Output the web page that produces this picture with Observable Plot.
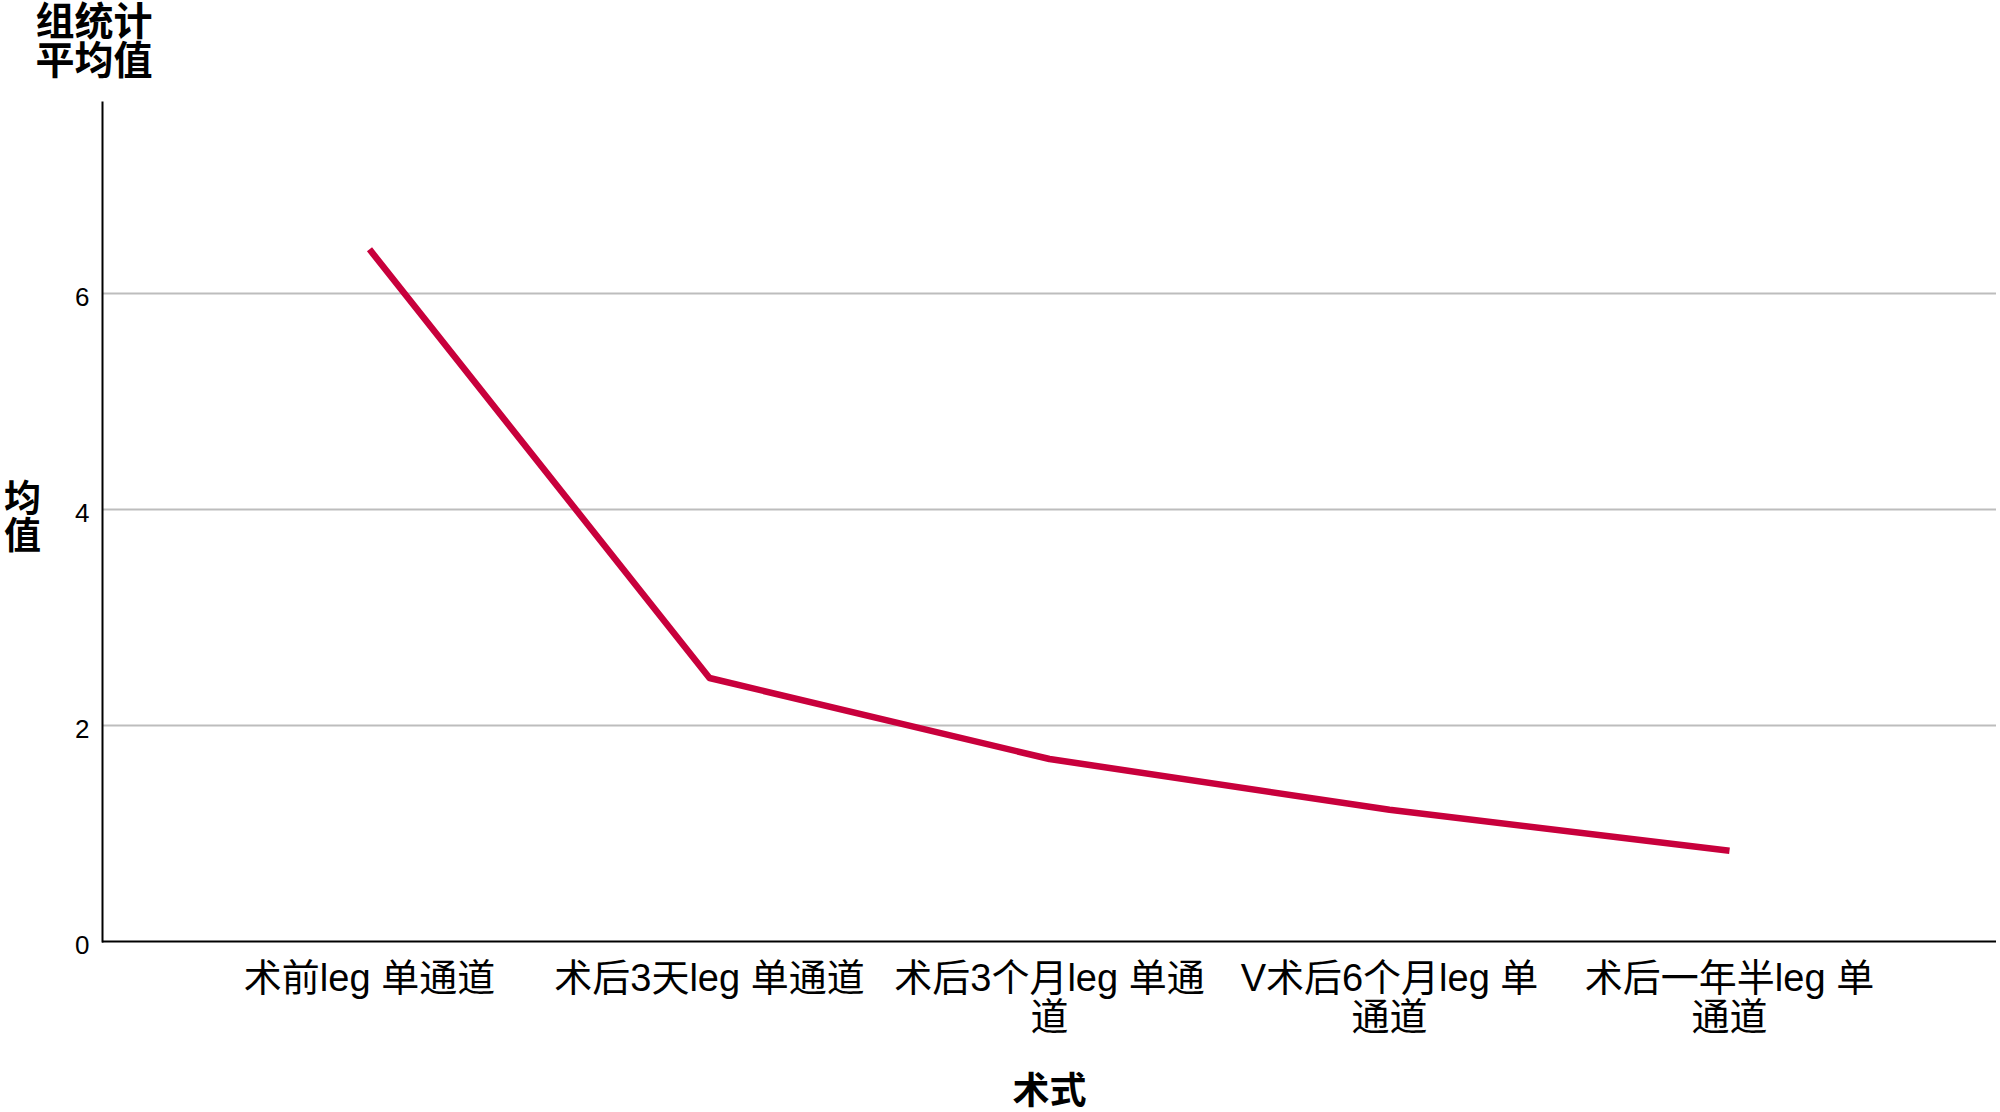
<!DOCTYPE html>
<html><head><meta charset="utf-8">
<script src="https://cdn.jsdelivr.net/npm/d3@7"></script>
<script src="https://cdn.jsdelivr.net/npm/@observablehq/plot@0.6"></script>
<style>body{margin:0;background:#fff}</style>
</head><body><div id="chart"></div>
<script>
const categories = ["术前leg 单通道","术后3天leg 单通道","术后3个月leg 单通道","V术后6个月leg 单通道","术后一年半leg 单通道"];
const tickLabels = ["术前leg 单通道","术后3天leg 单通道","术后3个月leg 单通\n道","V术后6个月leg 单\n通道","术后一年半leg 单\n通道"];
const means = [6.41, 2.44, 1.69, 1.22, 0.84];
const yTicks = [0, 2, 4, 6];
const titleText = "组统计\n平均值";
const yLabel = "均\n值";
const xLabel = "术式";

const data = categories.map((c, i) => ({c, v: means[i]}));
const font = '"Liberation Sans", Arial, "Noto Sans CJK SC", sans-serif';
const boldFont = '"Noto Sans CJK SC", "Liberation Sans", sans-serif';

const chart = Plot.plot({
  width: 2000, height: 1112,
  marginLeft: 102, marginRight: 4, marginTop: 102, marginBottom: 171,
  style: {fontFamily: font, background: "#fff", color: "#000"},
  x: {type: "point", domain: categories, padding: 0.783},
  y: {domain: [0, 7.77]},
  marks: [
    Plot.gridY(yTicks.filter(d => d > 0), {stroke: "#bdbdbd", strokeOpacity: 1, strokeWidth: 2}),
    Plot.frame({anchor: "left", stroke: "#000", strokeWidth: 2}),
    Plot.ruleY([0], {stroke: "#000", strokeWidth: 2}),
    Plot.axisY({ticks: yTicks, tickSize: 0, tickPadding: 13, fontSize: 26, dy: 4, label: null}),
    Plot.axisX({tickSize: 0, tickPadding: 22, fontSize: 38, lineHeight: 1.02, label: null,
      tickFormat: d => tickLabels[categories.indexOf(d)]}),
    Plot.line(data, {x: "c", y: "v", stroke: "#c8003c", strokeWidth: 6.5, strokeLinecap: "butt", strokeLinejoin: "round"}),
    Plot.text([titleText], {frameAnchor: "top-left", textAnchor: "start", lineAnchor: "top", dx: -67, dy: -95,
      fontSize: 39, fontWeight: "bold", fontFamily: boldFont, lineHeight: 1.0}),
    Plot.text([yLabel], {frameAnchor: "left", textAnchor: "middle", lineAnchor: "middle", dx: -80, dy: -3,
      fontSize: 37, fontWeight: "bold", fontFamily: boldFont, lineHeight: 1.0}),
    Plot.text([xLabel], {frameAnchor: "bottom", lineAnchor: "middle", dy: 151,
      fontSize: 37, fontWeight: "bold", fontFamily: boldFont})
  ]
});
document.getElementById("chart").appendChild(chart);
</script>
</body></html>
